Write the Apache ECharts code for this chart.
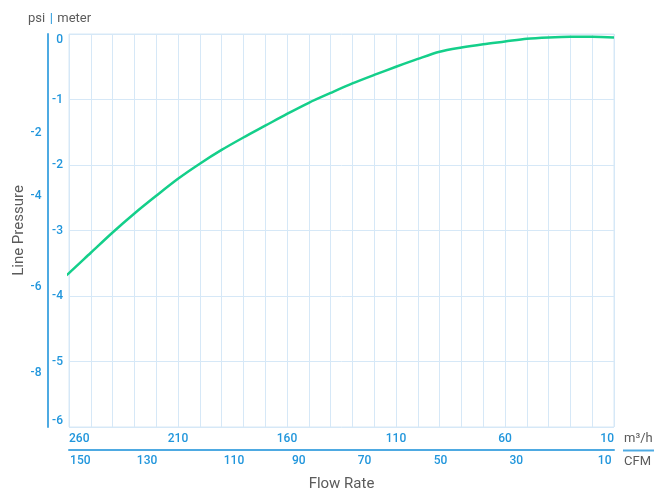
<!DOCTYPE html>
<html><head><meta charset="utf-8">
<script src="https://cdn.jsdelivr.net/npm/echarts@6/dist/echarts.min.js"></script>
<style>html,body{margin:0;padding:0;background:#fff}#c{width:654px;height:495px}</style>
</head><body><div id="c"></div>
<script>
// Flow rate (m³/h) and line pressure (meter)
const flowM3h = [261.5, 260, 250, 240, 230, 220, 210, 200, 190, 180, 170, 160, 150, 140, 130, 120, 110, 100, 90, 80, 70, 60, 50, 40, 30, 20, 10];
const pressureMeter = [-3.69, -3.65, -3.34, -3.03, -2.74, -2.47, -2.21, -1.98, -1.77, -1.58, -1.40, -1.22, -1.05, -0.90, -0.755, -0.625, -0.50, -0.38, -0.27, -0.206, -0.156, -0.115, -0.073, -0.053, -0.043, -0.043, -0.053];
// m³/h tick labels every 50 starting from 10
const m3hLabelStep = 50;
// psi labels and where they sit on the meter scale
const psiLabels = [-2, -4, -6, -8];
const psiAtMeter = [-1.508, -2.466, -3.86, -5.17];
// CFM labels and where they sit on the m³/h scale
const cfmLabels = [150, 130, 110, 90, 70, 50, 30, 10];
const cfmAtM3h = [254.8, 224.2, 184.3, 154.6, 124.4, 89.6, 54.8, 14.3];

const BLUE = '#2196dc';
const LINEBLUE = '#4eaae2';
const GRIDC = '#d6e8f7';
const GRAY = '#5b5b5b';
const FONT = 'Roboto';

function nearestIdx(arr, v) {
  let b = 0;
  for (let i = 1; i < arr.length; i++) if (Math.abs(arr[i] - v) < Math.abs(arr[b] - v)) b = i;
  return b;
}

const chart = echarts.init(document.getElementById('c'), null, {renderer: 'canvas'});
chart.setOption({
  animation: false,
  textStyle: {fontFamily: FONT},
  title: {
    left: 23, top: 5,
    text: '{g|psi} {b||} {g|meter}',
    textStyle: {fontWeight: 'normal', rich: {
      g: {color: GRAY, fontSize: 13, fontFamily: FONT, fontWeight: 'normal'},
      b: {color: BLUE, fontSize: 13, fontFamily: FONT, fontWeight: 'normal'}
    }}
  },
  grid: {left: 69, right: 40, top: 34, bottom: 68, show: true, borderColor: GRIDC, borderWidth: 1, outerBoundsMode: 'none'},
  xAxis: [
    {
      type: 'value', min: 10, max: 260, interval: 10, inverse: true, position: 'bottom',
      axisLine: {show: false, onZero: false}, axisTick: {show: false},
      splitLine: {show: true, lineStyle: {color: GRIDC, width: 1}},
      axisLabel: {
        color: BLUE, fontSize: 12, fontWeight: 500, margin: 6,
        alignMinLabel: 'right', alignMaxLabel: 'left',
        formatter: v => ((v - 10) % m3hLabelStep === 0 ? String(v) : '')
      },
      name: 'm³/h', nameLocation: 'start', nameGap: 10,
      nameTextStyle: {color: GRAY, fontSize: 13, verticalAlign: 'top', padding: [5, 0, 0, 0]}
    },
    {
      type: 'value', min: 10, max: 260, inverse: true, position: 'bottom', offset: 23,
      axisLine: {show: true, onZero: false, lineStyle: {color: LINEBLUE, width: 2}},
      axisTick: {show: false}, splitLine: {show: false},
      axisLabel: {
        color: BLUE, fontSize: 12, fontWeight: 500, margin: 5,
        customValues: cfmAtM3h,
        formatter: v => String(cfmLabels[nearestIdx(cfmAtM3h, v)])
      },
      name: 'CFM', nameLocation: 'start', nameGap: 10,
      nameTextStyle: {color: GRAY, fontSize: 13, verticalAlign: 'top', padding: [5, 0, 0, 0]}
    },
    {
      type: 'value', min: 10, max: 260, position: 'bottom', offset: 0,
      axisLine: {show: false, onZero: false}, axisTick: {show: false}, axisLabel: {show: false}, splitLine: {show: false},
      name: 'Flow Rate', nameLocation: 'middle', nameGap: 50,
      nameTextStyle: {color: GRAY, fontSize: 15}
    }
  ],
  yAxis: [
    {
      type: 'value', min: -6, max: 0, interval: 1, position: 'left',
      axisLine: {show: false, onZero: false}, axisTick: {show: false},
      splitLine: {show: true, lineStyle: {color: GRIDC, width: 1}},
      axisLabel: {
        color: BLUE, fontSize: 12, fontWeight: 500, margin: 6,
        verticalAlignMinLabel: 'bottom', verticalAlignMaxLabel: 'top'
      }
    },
    {
      type: 'value', min: -6, max: 0, position: 'left', offset: 21.5,
      axisLine: {show: true, onZero: false, lineStyle: {color: LINEBLUE, width: 2}},
      axisTick: {show: false}, splitLine: {show: false},
      axisLabel: {
        color: BLUE, fontSize: 12, fontWeight: 500, margin: 6,
        customValues: psiAtMeter,
        formatter: v => String(psiLabels[nearestIdx(psiAtMeter, v)])
      },
      name: 'Line Pressure', nameLocation: 'middle', nameGap: 21, nameMoveOverlap: false,
      nameTextStyle: {color: GRAY, fontSize: 15}
    }
  ],
  graphic: [{
    type: 'line', shape: {x1: 623, y1: 450.5, x2: 654, y2: 450.5},
    style: {stroke: LINEBLUE, lineWidth: 2}
  }],
  series: [{
    type: 'line', xAxisIndex: 0, yAxisIndex: 0,
    data: flowM3h.map((f, i) => [f, pressureMeter[i]]),
    smooth: 0.3, showSymbol: false, clip: false,
    lineStyle: {color: '#14cf8a', width: 2.5}
  }]
});
</script></body></html>
